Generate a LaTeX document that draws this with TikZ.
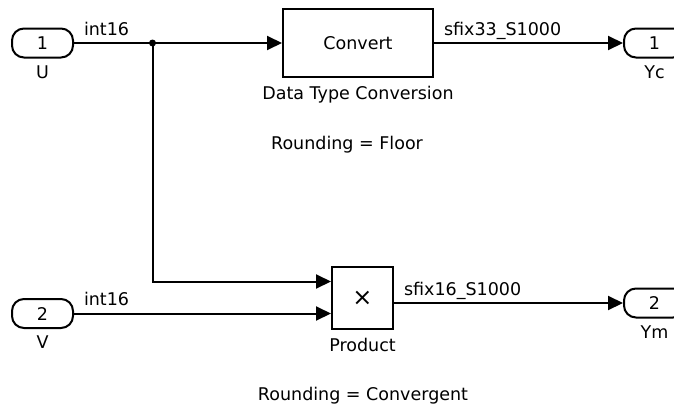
\documentclass[tikz,border=0pt]{standalone}
\usepackage{fontspec}
\setmainfont{DejaVu Sans}
\usetikzlibrary{arrows.meta, positioning}

\begin{document}
\begin{tikzpicture}[
    x=1pt, y=-1pt,
    every node/.style={font=\fontsize{17.5}{20}\selectfont},
    port/.style={draw, line width=2pt, rounded corners=12pt,
                 minimum width=61pt, minimum height=29pt, inner sep=0pt},
    blk/.style={draw, line width=2pt, inner sep=0pt},
    sig/.style={line width=2pt},
    arr/.style={sig, -{Triangle[length=15pt, width=14pt]}},
    lbl/.style={inner sep=0pt, text height=12.5pt, text depth=3.5pt},
    wire/.style={lbl, anchor=south west}
  ]
  \useasboundingbox (0,0) rectangle (674,407);
  \clip (0,0) rectangle (674,407);

  % ports and blocks
  \node[port] (u) at (42.5,43) {1};
  \node[port] (v) at (42.5,313.5) {2};
  \node[blk, minimum width=150pt, minimum height=68pt] (conv) at (358,43) {Convert};
  \node[blk, minimum width=61pt, minimum height=62pt,
        font=\fontsize{24}{26}\selectfont] (prod) at (362.5,298) {×};
  \node[port, anchor=west] (yc) at (623,43) {1};
  \node[port, anchor=west] (ym) at (623,303) {2};

  % block names
  \node[lbl, below=7pt of u] (ulbl) {U};
  \node[lbl, below=7pt of v] (vlbl) {V};
  \node[lbl, below=7pt of yc] (yclbl) {Yc};
  \node[lbl, below=7pt of ym] (ymlbl) {Ym};
  \node[lbl, below=9pt of conv] (convlbl) {Data Type Conversion};
  \node[lbl, below=9pt of prod] (prodlbl) {Product};

  % rounding modes
  \node[lbl] (rfloor) at (347,145) {Rounding = Floor};
  \node[lbl] (rconv) at (363,396) {Rounding = Convergent};

  % signals
  \coordinate (jn) at (152.5,43);
  \draw[arr] (u) -- (conv)
    node[wire, pos=0, above right=3.5pt and 9pt] {int16};
  \fill (jn) circle (3.5pt);
  \draw[arr] (jn) |- ([yshift=-15.5pt]prod.north west);
  \draw[arr] (v) -- (v -| prod.west)
    node[wire, pos=0, above right=3.5pt and 9pt] {int16};
  \draw[arr] (conv) -- (yc)
    node[wire, pos=0, above right=3.5pt and 9pt] {sfix33\_S1000};
  \draw[arr] (prod.east |- ym.west) -- (ym.west)
    node[wire, pos=0, above right=3.5pt and 9pt] {sfix16\_S1000};
\end{tikzpicture}
\end{document}
